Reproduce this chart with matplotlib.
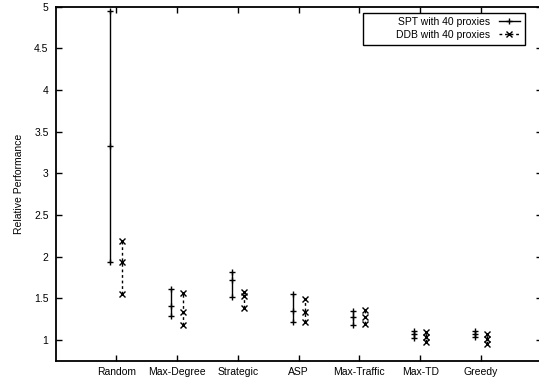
import numpy as np
import matplotlib
matplotlib.use('Agg')
import matplotlib.pyplot as plt
from matplotlib.lines import Line2D
from matplotlib.patches import Rectangle

plt.rcParams['font.family'] = ['Liberation Sans', 'DejaVu Sans']
plt.rcParams['font.size'] = 7.5

### relative performance per placement strategy (mean, low, high)
strategies = ['Random', 'Max-Degree', 'Strategic', 'ASP', 'Max-Traffic', 'Max-TD', 'Greedy']

spt_mid = [3.33, 1.41, 1.72, 1.35, 1.27, 1.07, 1.07]
spt_low = [1.93, 1.29, 1.51, 1.22, 1.18, 1.02, 1.03]
spt_high = [4.95, 1.61, 1.82, 1.55, 1.35, 1.11, 1.11]

ddb_mid = [1.93, 1.34, 1.53, 1.33, 1.28, 1.04, 1.01]
ddb_low = [1.55, 1.18, 1.38, 1.21, 1.19, 0.97, 0.95]
ddb_high = [2.19, 1.56, 1.58, 1.49, 1.36, 1.10, 1.07]

yticks = [1, 1.5, 2, 2.5, 3, 3.5, 4, 4.5, 5]

fig = plt.figure(figsize=(5.39, 3.81), dpi=100)
ax = fig.add_axes([0.103, 0.0533, 0.902, 0.929])

x = np.arange(1, len(strategies) + 1)
xs = x - 0.1
xd = x + 0.1

# SPT: solid bars with + at mean and ends
ax.vlines(xs, spt_low, spt_high, colors='black', lw=1.0, linestyles='solid')
for yy in (spt_low, spt_mid, spt_high):
    ax.plot(xs, yy, ls='none', marker='+', ms=5, mew=1.0, color='black')

# DDB: dashed bars with x at mean and ends
ax.vlines(xd, ddb_low, ddb_high, colors='black', lw=1.0, linestyles=(0, (2, 2)))
for yy in (ddb_low, ddb_mid, ddb_high):
    ax.plot(xd, yy, ls='none', marker='x', ms=4, mew=1.0, color='black')

ax.set_xlim(0, 8)
ax.set_ylim(0.75, 5)
ax.set_xticks(x)
ax.set_xticklabels(strategies)
ax.set_yticks(yticks)
ax.set_yticklabels(['%g' % t for t in yticks])
ax.tick_params(direction='in', length=4, width=1, top=True, right=True, pad=5)
ax.tick_params(axis='x', pad=4.5)
for s in ax.spines.values():
    s.set_linewidth(1.3)

ax.set_ylabel('Relative Performance', labelpad=7)

# gnuplot-like key: wide box, labels right-aligned before the samples
ax.add_patch(Rectangle((0.632, 0.892), 0.9655 - 0.632, 0.983 - 0.892,
                       transform=ax.transAxes, fill=False, ec='black', lw=1.0,
                       zorder=5))
handles = [
    Line2D([], [], color='black', lw=1.0, marker='+', ms=5, mew=1.0),
    Line2D([], [], color='black', lw=1.0, ls=(0, (2, 2)), marker='x', ms=4, mew=1.0),
]
leg = ax.legend(handles, ['SPT with 40 proxies', 'DDB with 40 proxies'],
                loc='upper right', bbox_to_anchor=(0.955, 0.972), borderaxespad=0,
                markerfirst=False, frameon=False, handlelength=2.0,
                handletextpad=0.85, borderpad=0, labelspacing=0.3)

fig.savefig('out.png', dpi=100)
